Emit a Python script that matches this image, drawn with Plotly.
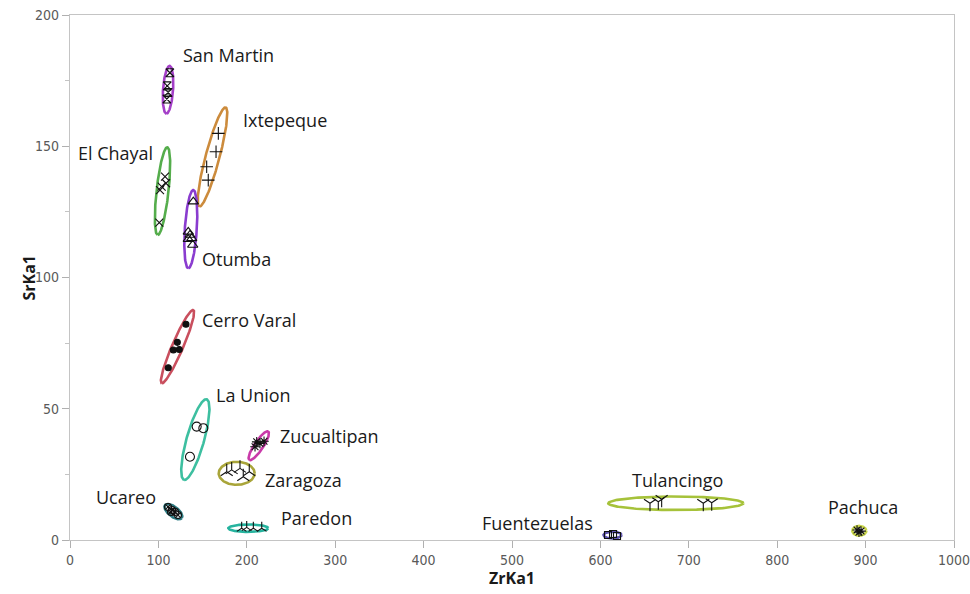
import numpy as np
import plotly.graph_objects as go

# ---- measurements per obsidian source (ZrKa1, SrKa1) ----
groups = ["San Martin", "Ixtepeque", "El Chayal", "Otumba", "Cerro Varal", "La Union",
          "Zucualtipan", "Zaragoza", "Ucareo", "Paredon", "Tulancingo", "Fuentezuelas", "Pachuca"]

zr_san_martin = [113.0, 110.0, 111.0, 109.5]
sr_san_martin = [178.0, 173.0, 170.5, 168.0]

zr_ixtepeque = [167.8, 165.2, 154.6, 156.4]
sr_ixtepeque = [154.9, 147.9, 142.2, 137.1]

zr_el_chayal = [107.5, 108.6, 103.7, 101.8, 101.0]
sr_el_chayal = [138.4, 135.9, 134.6, 133.3, 120.9]

zr_otumba = [139.5, 133.8, 135.7, 137.7, 133.8, 138.8]
sr_otumba = [128.9, 117.4, 116.2, 114.9, 114.6, 112.4]

zr_cerro_varal = [131.2, 121.4, 123.6, 116.9, 111.2]
sr_cerro_varal = [82.2, 75.3, 72.6, 72.4, 65.6]

zr_la_union = [143.3, 150.8, 135.7]
sr_la_union = [43.2, 42.6, 31.7]

zr_zucualtipan = [211.2, 214.9, 209.3, 219.5]
sr_zucualtipan = [37.4, 36.8, 35.5, 37.6]

zr_zaragoza = [177.3, 182.9, 192.3, 196.0, 202.8]
sr_zaragoza = [26.0, 26.7, 27.3, 24.1, 26.0]

zr_ucareo = [110.9, 115.4, 118.8, 122.2, 114.3]
sr_ucareo = [12.6, 11.4, 10.7, 9.5, 10.7]

zr_paredon = [194.2, 199.9, 207.4, 216.9]
sr_paredon = [4.5, 4.8, 4.5, 4.5]

zr_tulancingo = [656.1, 665.5, 669.3, 716.4, 725.9]
sr_tulancingo = [14.0, 14.6, 15.5, 14.0, 14.2]

zr_fuentezuelas = [608.6, 614.3, 618.8]
sr_fuentezuelas = [1.9, 2.3, 1.5]

zr_pachuca = [890.3, 894.8, 892.5]
sr_pachuca = [3.8, 3.4, 3.0]

zr_values = [zr_san_martin, zr_ixtepeque, zr_el_chayal, zr_otumba, zr_cerro_varal, zr_la_union,
             zr_zucualtipan, zr_zaragoza, zr_ucareo, zr_paredon, zr_tulancingo, zr_fuentezuelas, zr_pachuca]
sr_values = [sr_san_martin, sr_ixtepeque, sr_el_chayal, sr_otumba, sr_cerro_varal, sr_la_union,
             sr_zucualtipan, sr_zaragoza, sr_ucareo, sr_paredon, sr_tulancingo, sr_fuentezuelas, sr_pachuca]

# ---- confidence ellipses: major-axis end points (data units) and minor/major ratio ----
ell_x1 = [112.8, 176.1, 110.1, 139.5, 139.5, 154.6, 224.3, 168.2, 107.5, 179.1, 608.9, 603.5, 885.0]
ell_y1 = [180.6, 164.8, 149.6, 133.3, 87.6, 53.6, 41.3, 25.4, 13.3, 4.5, 14.0, 1.9, 3.5]
ell_x2 = [109.0, 146.3, 99.2, 133.8, 103.7, 129.0, 202.8, 208.9, 126.4, 224.3, 761.7, 623.9, 900.8]
ell_y2 = [162.4, 127.0, 116.2, 103.5, 59.7, 22.9, 30.5, 25.4, 8.3, 4.5, 14.0, 1.9, 3.5]
ell_ratio = [0.21, 0.136, 0.136, 0.153, 0.138, 0.21, 0.26, 0.64, 0.47, 0.185, 0.10, 0.37, 0.7]

# ---- label placement ----
lab_x = [126.0, 193.4, 96.2, 147.0, 147.0, 162.9, 235.7, 218.0, 99.0, 236.8, 633.5, 594.0, 855.2]
lab_y = [184.8, 160.0, 147.4, 106.9, 83.8, 55.2, 39.6, 22.9, 16.4, 8.3, 22.9, 6.5, 12.7]
lab_anchor = ["left", "left", "right", "left", "left", "left", "left", "left", "right", "left",
              "left", "right", "left"]

ell_colors = ["#a43fc8", "#cc8b3c", "#55ad4c", "#8a3ccf", "#c94f5e", "#3dbfa0", "#c93aa9",
              "#a9a53a", "#2e7d84", "#25b39e", "#a6c23a", "#5c52b0", "#c9d64a"]
symbols = ["hourglass-open", "cross-thin-open", "x-thin-open", "triangle-up-open", "circle",
           "circle-open", "asterisk-open", "y-up-open", "circle-x-open", "y-up-open",
           "y-down-open", "square-open", "asterisk-open"]
sizes = [8, 9, 8, 9, 6, 9, 8, 10, 7, 8, 10, 7, 8]

X_RANGE = [0, 1000]
Y_RANGE = [0, 200]
PLOT_W, PLOT_H = 884, 525
kx = PLOT_W / (X_RANGE[1] - X_RANGE[0])
ky = PLOT_H / (Y_RANGE[1] - Y_RANGE[0])

fig = go.Figure()

t = np.linspace(0, 2 * np.pi, 181)
for i, name in enumerate(groups):
    # ellipse built in screen-proportional space so it keeps its shape on unequal axes
    p1 = np.array([ell_x1[i] * kx, ell_y1[i] * ky])
    p2 = np.array([ell_x2[i] * kx, ell_y2[i] * ky])
    c = (p1 + p2) / 2
    u = (p2 - p1) / 2
    v = np.array([-u[1], u[0]]) * ell_ratio[i]
    ex = (c[0] + u[0] * np.cos(t) + v[0] * np.sin(t)) / kx
    ey = (c[1] + u[1] * np.cos(t) + v[1] * np.sin(t)) / ky
    fig.add_trace(go.Scatter(x=ex, y=ey, mode="lines",
                             line=dict(color=ell_colors[i], width=2.6),
                             hoverinfo="skip", showlegend=False))
    fig.add_trace(go.Scatter(x=zr_values[i], y=sr_values[i], mode="markers", name=name,
                             marker=dict(symbol=symbols[i], size=sizes[i], color="#111111",
                                         line=dict(color="#111111", width=1.1)),
                             showlegend=False))
    fig.add_annotation(x=lab_x[i], y=lab_y[i], text=name, showarrow=False,
                       xanchor=lab_anchor[i], yanchor="middle",
                       font=dict(family="Open Sans", size=18, color="#1a1a1a"))

# axis titles
fig.add_annotation(x=0.5, y=-0.072, xref="paper", yref="paper", text="<b>ZrKa1</b>",
                   showarrow=False, xanchor="center", yanchor="middle",
                   font=dict(family="Open Sans", size=16, color="#1a1a1a"))
fig.add_annotation(x=-0.0475, y=0.5, xref="paper", yref="paper", text="<b>SrKa1</b>",
                   showarrow=False, textangle=-90, xanchor="center", yanchor="middle",
                   font=dict(family="Open Sans", size=16, color="#1a1a1a"))

tick_font = dict(family="DejaVu Sans Condensed, Open Sans", size=14, color="#595959")
fig.update_xaxes(range=X_RANGE, tickvals=list(range(0, 1001, 100)), showgrid=False,
                 zeroline=False, showline=True, linecolor="#c4c4c4", linewidth=1.3, mirror=True,
                 ticks="outside", ticklen=7, tickcolor="#b0b0b0", tickfont=tick_font,
                 ticklabeloverflow="allow")
fig.update_yaxes(range=Y_RANGE, tickvals=list(range(0, 201, 50)), showgrid=False,
                 zeroline=False, showline=True, linecolor="#c4c4c4", linewidth=1.3, mirror=True,
                 ticks="outside", ticklen=7, tickcolor="#b0b0b0", tickfont=tick_font,
                 ticklabeloverflow="allow",
                 minor=dict(tickvals=[25, 75, 125, 175], ticks="outside", ticklen=4,
                            tickcolor="#c4c4c4"))

fig.update_layout(width=970, height=594,
                  margin=dict(l=70, r=16, t=15, b=54, autoexpand=False),
                  paper_bgcolor="white", plot_bgcolor="white", showlegend=False)

fig.write_html("out.html")
